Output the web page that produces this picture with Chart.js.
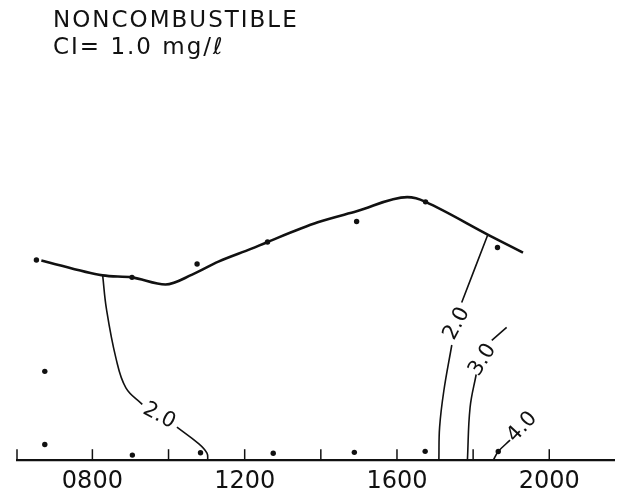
<!DOCTYPE html>
<html lang="en">
<head>
  <meta charset="UTF-8">
  <title>Noncombustible CI = 1.0 mg/l</title>
  <style>
    body {
      margin: 0;
      padding: 0;
      background: #fff;
    }

    .wrap {
      position: relative;
      width: 618px;
      height: 503px;
    }

    /* title lettering sits over the canvas */
    .title {
      position: absolute;
      left: 53px;
      top: 6px;
      font-family: 'DejaVu Sans', sans-serif;
      font-size: 23px;
      line-height: 27px;
      letter-spacing: 2px;
      color: #111;
    }
  </style>
</head>
<body>
  <div class="wrap">
    <canvas id="chart" width="618" height="503"></canvas>
    <div class="title">NONCOMBUSTIBLE<br>CI= 1.0 mg/ℓ</div>
  </div>

  <script src="https://cdn.jsdelivr.net/npm/chart.js"></script>
  <script>
    // x axis: time of day
    const tickValues = [800, 1000, 1200, 1400, 1600, 1800, 2000];
    const tickLabels = ['0800', '', '1200', '', '1600', '', '2000'];

    // upper boundary line
    const ridgeX = [666, 827, 904, 992, 1062, 1131, 1218, 1260, 1392, 1494, 1627, 1650, 1675, 1842, 1931];
    const ridgeY = [50.8, 47.0, 46.5, 44.7, 47.2, 50.5, 53.8, 55.5, 60.5, 63.3, 66.9, 66.6, 65.7, 57.2, 52.8];

    // 2.0 contour, left side (split at its label)
    const c2LeftTopX = [827, 837, 862, 888, 931];
    const c2LeftTopY = [47.0, 38.4, 25.9, 18.4, 14.2];
    const c2LeftLowX = [1022, 1079, 1101, 1103];
    const c2LeftLowY = [8.4, 4.2, 1.8, 0];

    // 2.0 contour, right side
    const c2RightTopX = [1838, 1770];
    const c2RightTopY = [57.2, 40.1];
    const c2RightLowX = [1744, 1723, 1712, 1710];
    const c2RightLowY = [29.3, 17.6, 8.4, 0];

    // 3.0 contour
    const c3TopX = [1888, 1849];
    const c3TopY = [33.8, 30.5];
    const c3LowX = [1808, 1792, 1785];
    const c3LowY = [21.8, 13.4, 0];

    // 4.0 contour
    const c4X = [1853, 1866, 1897];
    const c4Y = [0, 2.2, 5.1];

    // contour labels
    const labelText = ['2.0', '2.0', '3.0', '4.0'];
    const labelX = [975, 1757, 1825, 1929];
    const labelY = [11.3, 34.7, 25.5, 8.4];
    const labelAngle = [28, -62, -58, -47];

    // sample points
    const obsX = [653, 904, 1075, 1260, 1494, 1675, 1864, 675, 675, 905, 1084, 1275, 1488, 1674, 1866];
    const obsY = [50.9, 46.5, 49.9, 55.5, 60.7, 65.7, 54.1, 22.6, 4.0, 1.3, 1.9, 1.75, 2.0, 2.25, 2.2];

    const toPoints = (xs, ys) => xs.map((x, i) => ({ x: x, y: ys[i] }));

    const ink = '#111';

    function contour(xs, ys) {
      return {
        data: toPoints(xs, ys),
        showLine: true,
        borderColor: ink,
        borderWidth: 1.6,
        pointRadius: 0,
        tension: 0.4,
        clip: false
      };
    }

    // tick marks point up into the plot, not down
    const upTicks = {
      id: 'upTicks',
      afterDraw(chart) {
        const xs = chart.scales.x;
        const ctx = chart.ctx;
        const base = chart.chartArea.bottom;
        ctx.save();
        ctx.strokeStyle = ink;
        ctx.lineWidth = 1.5;
        const marks = [xs.left].concat(tickValues.map(v => xs.getPixelForValue(v)));
        marks.forEach(px => {
          ctx.beginPath();
          ctx.moveTo(px, base);
          ctx.lineTo(px, base - 11);
          ctx.stroke();
        });
        ctx.restore();
      }
    };

    // rotated contour values
    const contourLabels = {
      id: 'contourLabels',
      afterDatasetsDraw(chart) {
        const ctx = chart.ctx;
        const xs = chart.scales.x;
        const ys = chart.scales.y;
        ctx.save();
        ctx.fillStyle = ink;
        ctx.font = '21px "DejaVu Sans"';
        ctx.textAlign = 'center';
        ctx.textBaseline = 'middle';
        labelText.forEach((t, i) => {
          ctx.save();
          ctx.translate(xs.getPixelForValue(labelX[i]), ys.getPixelForValue(labelY[i]));
          ctx.rotate(labelAngle[i] * Math.PI / 180);
          ctx.fillText(t, 0, 0);
          ctx.restore();
        });
        ctx.restore();
      }
    };

    const ctx = document.getElementById('chart').getContext('2d');
    new Chart(ctx, {
      type: 'scatter',
      data: {
        datasets: [
          {
            data: toPoints(ridgeX, ridgeY),
            showLine: true,
            borderColor: ink,
            borderWidth: 2.6,
            pointRadius: 0,
            cubicInterpolationMode: 'monotone',
            clip: false
          },
          contour(c2LeftTopX, c2LeftTopY),
          contour(c2LeftLowX, c2LeftLowY),
          contour(c2RightTopX, c2RightTopY),
          contour(c2RightLowX, c2RightLowY),
          contour(c3TopX, c3TopY),
          contour(c3LowX, c3LowY),
          contour(c4X, c4Y),
          {
            data: toPoints(obsX, obsY),
            pointRadius: 2.7,
            pointBackgroundColor: ink,
            pointBorderWidth: 0,
            clip: false
          }
        ]
      },
      options: {
        responsive: false,
        animation: false,
        layout: {
          padding: { top: 67, left: 17, right: 0, bottom: 0 }
        },
        plugins: {
          legend: { display: false },
          tooltip: { enabled: false }
        },
        scales: {
          x: {
            type: 'linear',
            min: 602,
            max: 2170,
            afterBuildTicks: (scale) => {
              scale.ticks = tickValues.map(v => ({ value: v }));
            },
            grid: { display: false, drawTicks: false },
            border: { display: true, color: ink, width: 2.2 },
            ticks: {
              padding: 7,
              color: ink,
              font: { family: 'DejaVu Sans', size: 24 },
              maxRotation: 0,
              autoSkip: false,
              callback: (value, index) => tickLabels[index]
            }
          },
          y: {
            display: false,
            min: 0,
            max: 100
          }
        }
      },
      plugins: [upTicks, contourLabels]
    });
  </script>
</body>
</html>
